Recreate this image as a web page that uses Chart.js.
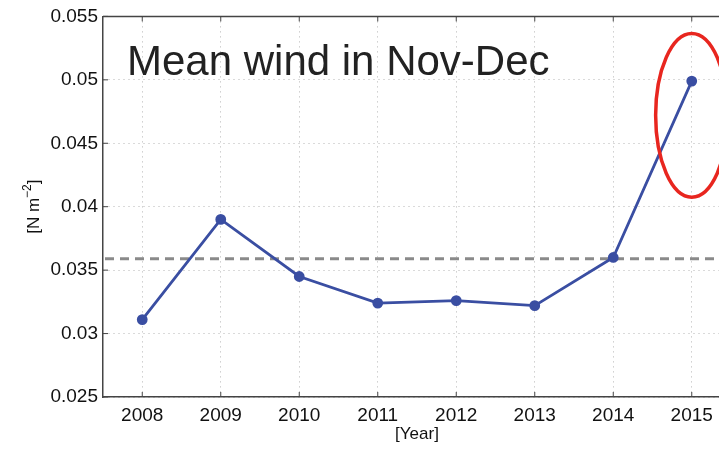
<!DOCTYPE html>
<html>
<head>
<meta charset="utf-8">
<script src="https://cdn.jsdelivr.net/npm/chart.js@4.4.1/dist/chart.umd.min.js"></script>
<style>
  html, body { margin: 0; padding: 0; background: #fff; overflow: hidden; }
  #wrap { width: 740px; height: 451px; }
</style>
</head>
<body>
<div id="wrap"><canvas id="windChart" width="740" height="451"></canvas></div>
<script>
// data
const years = ['2008', '2009', '2010', '2011', '2012', '2013', '2014', '2015'];
const meanWind = [0.0311, 0.0390, 0.0345, 0.0324, 0.0326, 0.0322, 0.0360, 0.0499];
const yTickLabels = ['0.025', '0.03', '0.035', '0.04', '0.045', '0.05', '0.055'];
const climatology = 0.0359;

// red ellipse round the 2015 value
const highlight = { index: 7, value: 0.0472, halfYears: 0.46, halfValue: 0.00645 };

const fontFamily = '"Liberation Sans", Arial, sans-serif';

const boxAndExtras = {
    id: 'boxAndExtras',
    beforeDatasetsDraw(chart) {
        const { ctx, chartArea: a, scales: { x, y } } = chart;
        ctx.save();
        // dashed mean line
        const ym = y.getPixelForValue(climatology);
        ctx.strokeStyle = '#8a8a8a';
        ctx.lineWidth = 3;
        ctx.setLineDash([9, 6]);
        ctx.beginPath();
        ctx.moveTo(a.left + 2, ym);
        ctx.lineTo(a.right, ym);
        ctx.stroke();
        ctx.setLineDash([]);
        // top border
        ctx.strokeStyle = '#444';
        ctx.lineWidth = 1.5;
        ctx.beginPath();
        ctx.moveTo(a.left, a.top);
        ctx.lineTo(a.right, a.top);
        ctx.stroke();
        // inward ticks
        ctx.lineWidth = 1;
        years.forEach((_, i) => {
            const px = x.getPixelForValue(i);
            ctx.beginPath();
            ctx.moveTo(px, a.bottom); ctx.lineTo(px, a.bottom - 5);
            ctx.moveTo(px, a.top); ctx.lineTo(px, a.top + 5);
            ctx.stroke();
        });
        y.ticks.forEach(t => {
            const py = y.getPixelForValue(t.value);
            ctx.beginPath();
            ctx.moveTo(a.left, py); ctx.lineTo(a.left + 5, py);
            ctx.stroke();
        });
        // title inside the plot
        ctx.fillStyle = '#222';
        ctx.font = '42px ' + fontFamily;
        ctx.textBaseline = 'alphabetic';
        ctx.fillText('Mean wind in Nov-Dec', 127, 75);
        ctx.restore();
    },
    afterDatasetsDraw(chart) {
        const { ctx, chartArea: a, scales: { x, y } } = chart;
        const cx = x.getPixelForValue(highlight.index);
        const step = x.getPixelForValue(1) - x.getPixelForValue(0);
        const cy = y.getPixelForValue(highlight.value);
        const ry = y.getPixelForValue(highlight.value - highlight.halfValue) - cy;
        ctx.save();
        ctx.strokeStyle = '#e8261f';
        ctx.lineWidth = 3.5;
        ctx.beginPath();
        ctx.ellipse(cx, cy, highlight.halfYears * step, ry, 0, 0, Math.PI * 2);
        ctx.stroke();

        // y axis unit with a real superscript
        const main = '[N m', sup = '\u22122', tail = ']';
        ctx.fillStyle = '#111';
        ctx.translate(39, (a.top + a.bottom) / 2);
        ctx.rotate(-Math.PI / 2);
        ctx.textBaseline = 'alphabetic';
        ctx.font = '17px ' + fontFamily;
        const w1 = ctx.measureText(main).width, w3 = ctx.measureText(tail).width;
        ctx.font = '12px ' + fontFamily;
        const w2 = ctx.measureText(sup).width;
        let px = -(w1 + w2 + w3) / 2;
        ctx.font = '17px ' + fontFamily;
        ctx.fillText(main, px, 0);
        px += w1;
        ctx.font = '12px ' + fontFamily;
        ctx.fillText(sup, px, -8);
        px += w2;
        ctx.font = '17px ' + fontFamily;
        ctx.fillText(tail, px, 0);
        ctx.restore();
    }
};

const tickFont = { family: fontFamily, size: 19 };
const titleFont = { family: fontFamily, size: 17 };

const ctx1 = document.getElementById('windChart').getContext('2d');
const windChart = new Chart(ctx1, {
    type: 'line',
    data: {
        labels: years,
        datasets: [{
            data: meanWind,
            borderColor: '#3a4ea2',
            backgroundColor: '#3a4ea2',
            borderWidth: 2.8,
            pointRadius: 4,
            pointHoverRadius: 4,
            tension: 0
        }]
    },
    options: {
        responsive: false,
        animation: false,
        layout: { padding: { top: 15, right: 9, left: 0, bottom: 0 } },
        plugins: { legend: { display: false }, tooltip: { enabled: false } },
        scales: {
            x: {
                offset: true,
                grid: { color: '#b5b5b5', drawTicks: false, offset: false },
                border: { color: '#444', width: 1.5, dash: [1, 4] },
                ticks: { color: '#111', font: tickFont, padding: 7 },
                title: {
                    display: true, text: '[Year]', color: '#111',
                    font: titleFont,
                    padding: { top: 0, bottom: 6 }
                },
                afterFit: (s) => { s.height = 54; }
            },
            y: {
                min: 0.025,
                max: 0.055,
                grid: { color: '#b5b5b5', drawTicks: false },
                border: { color: '#444', width: 1.5, dash: [1, 4] },
                ticks: {
                    stepSize: 0.005,
                    color: '#111',
                    font: tickFont,
                    padding: 5,
                    callback: (v, i) => yTickLabels[i]
                },
                afterFit: (s) => { s.width = 103; }
            }
        }
    },
    plugins: [boxAndExtras]
});
</script>
</body>
</html>
